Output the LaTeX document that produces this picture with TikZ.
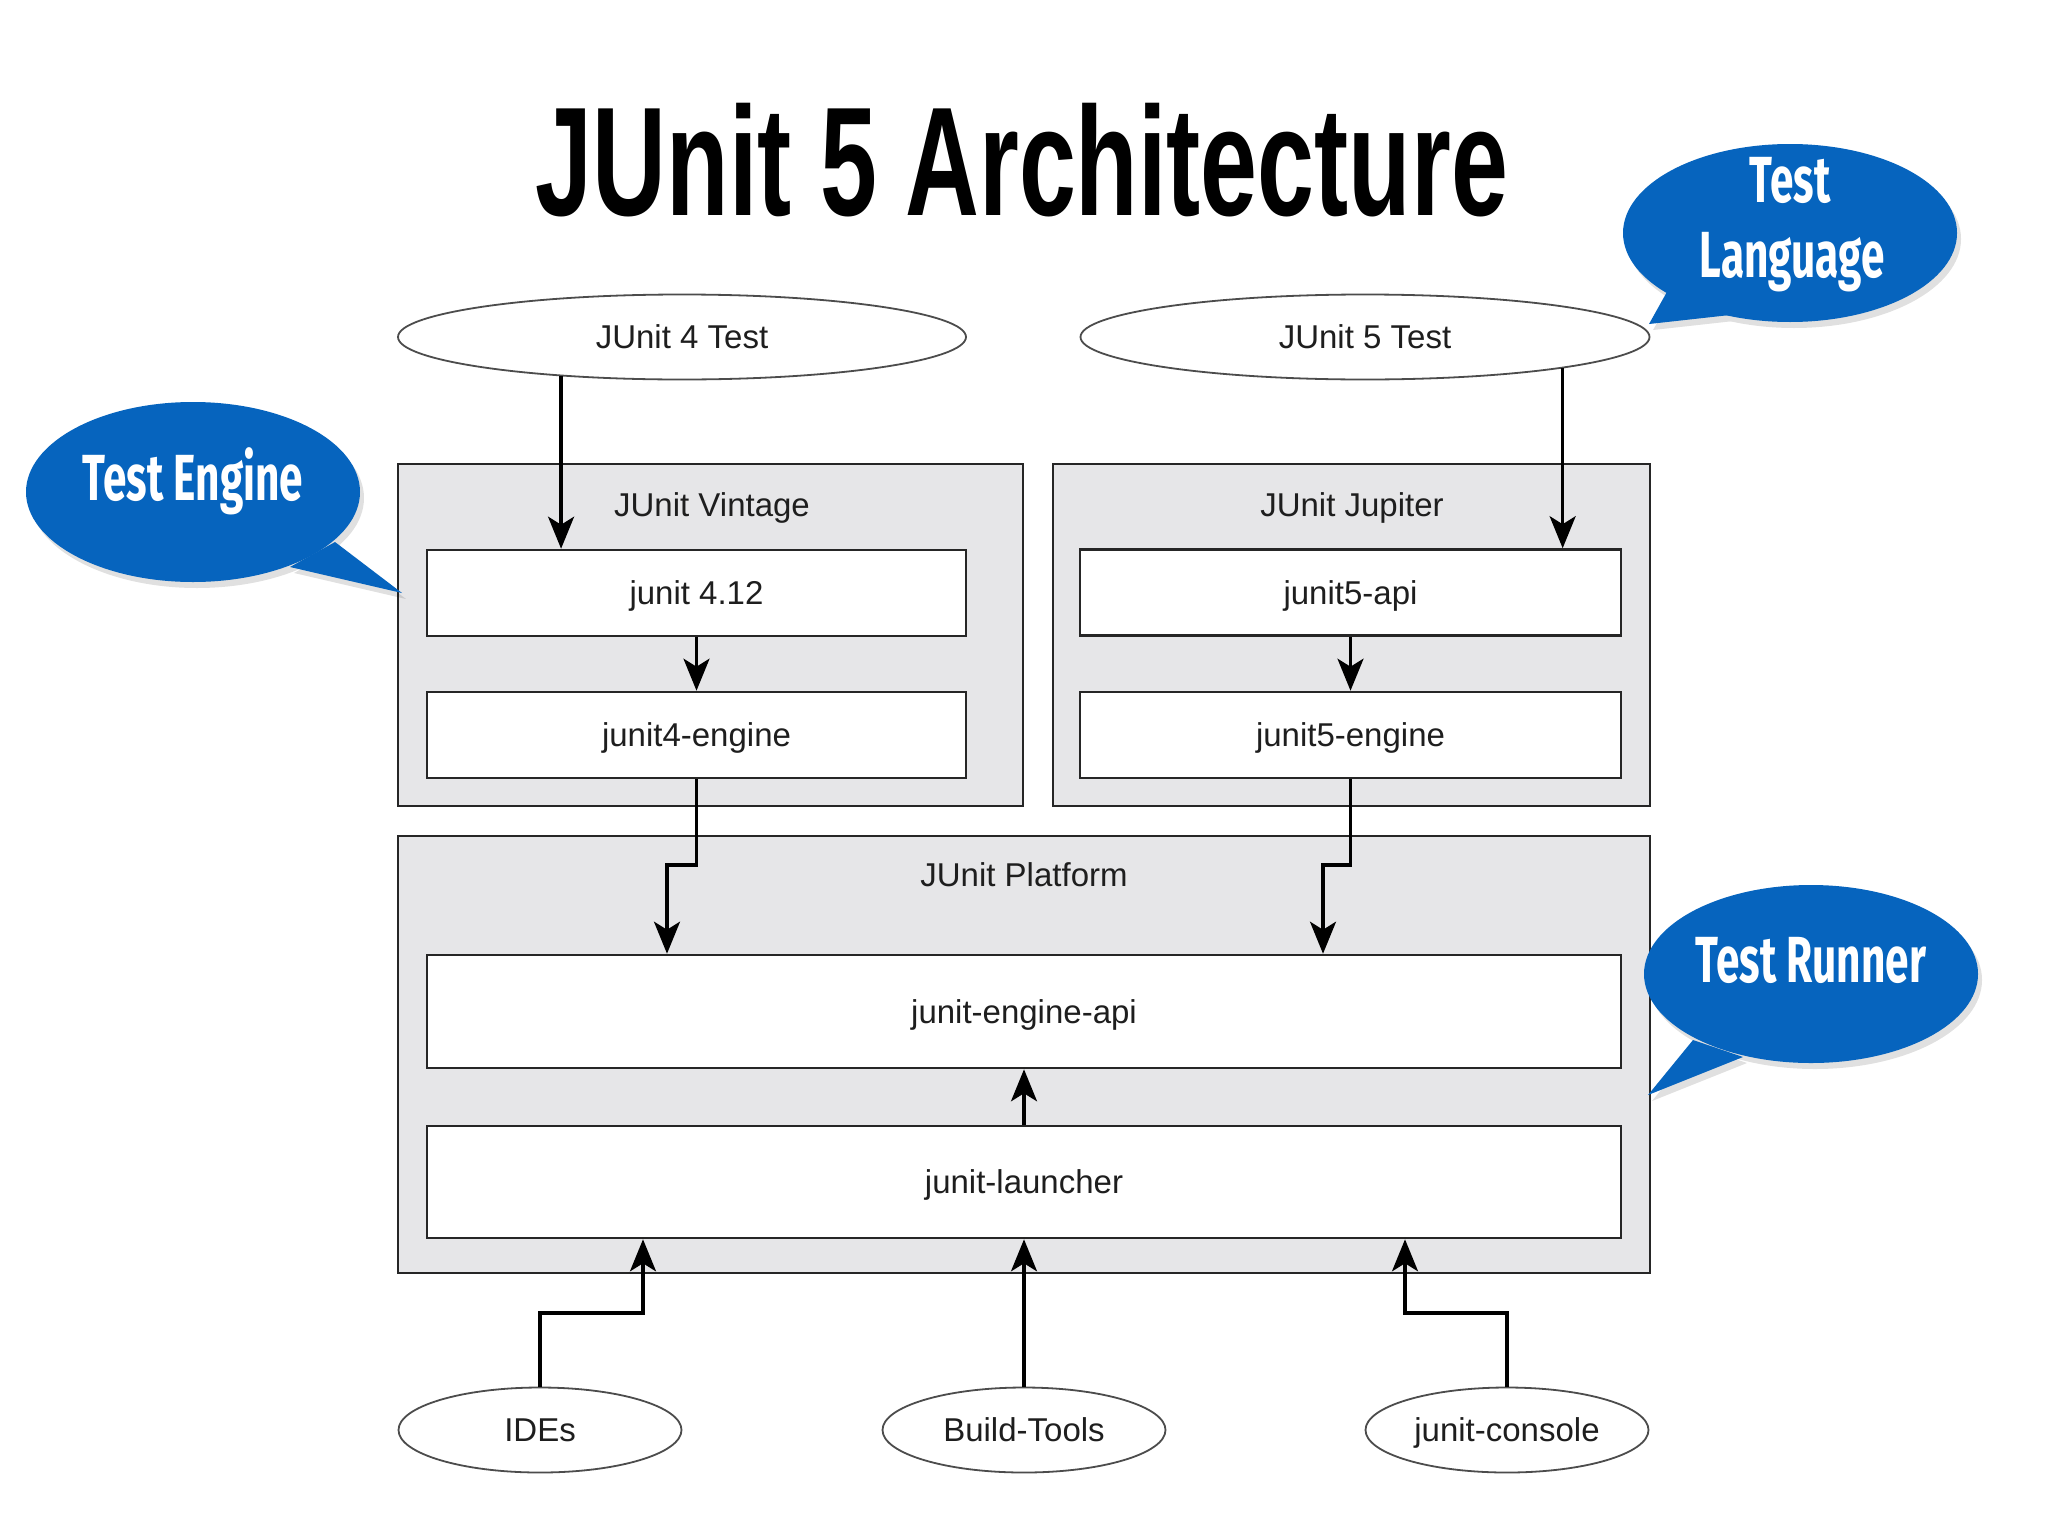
\documentclass[tikz,border=0pt]{standalone}
\usepackage{fontspec}
\setmainfont{Liberation Sans}
\newfontfamily\condfont[FakeStretch=0.65]{Fira Sans}
\newfontfamily\titlefont[FakeStretch=0.66]{Liberation Sans}
\usetikzlibrary{shapes.geometric,arrows.meta}
\definecolor{bubblecol}{RGB}{6,100,190}
\definecolor{boxgray}{RGB}{230,230,232}
\definecolor{txt}{RGB}{30,30,30}
\begin{document}
\begin{tikzpicture}[x=0.5pt,y=-0.5pt,
  container/.style={rectangle, draw=black!85, line width=1.3pt, fill=boxgray, inner sep=0pt},
  inner/.style={rectangle, draw=black!85, line width=1.3pt, fill=white, inner sep=0pt,
    font=\fontsize{16.5}{18}\selectfont, text=txt, text height=14pt, text depth=2.5pt},
  oval/.style={ellipse, draw=black!70, line width=0.9pt, fill=white, inner sep=0pt,
    font=\fontsize{16.5}{18}\selectfont, text=txt, minimum height=42.5pt, text height=14pt, text depth=2.5pt},
  lbl/.style={font=\fontsize{16.5}{18}\selectfont, text=txt, inner sep=0pt, text height=14pt, text depth=2.5pt},
  arr/.style={draw=black, line width=1.6pt, -{Stealth[length=16pt,width=13pt,inset=4pt]}},
  bubble/.style={fill=bubblecol},
  bubshadow/.style={fill=black},
  bubtext/.style={font=\condfont\bfseries\fontsize{32.6}{36}\selectfont, text=white, inner sep=0pt, anchor=base},
]
\path[use as bounding box, fill=white] (0,0) rectangle (2048,1536);

% title
\node[font=\titlefont\bfseries\fontsize{77.5}{84}\selectfont, text=black, inner sep=0pt, anchor=base] (title) at (1022,215) {JUnit 5 Architecture};

% containers
\node[container, minimum width=312.5pt, minimum height=171pt] (vintage) at (710.5,635) {};
\node[container, minimum width=298.5pt, minimum height=171pt] (jupiter) at (1351.5,635) {};
\node[container, minimum width=626pt, minimum height=218.5pt] (platform) at (1024,1054.5) {};
\node[lbl] (vintagelbl) at (712,505) {JUnit Vintage};
\node[lbl] (jupiterlbl) at (1352,505) {JUnit Jupiter};
\node[lbl] (platformlbl) at (1024,875) {JUnit Platform};

% inner boxes
\node[inner, minimum width=269.5pt, minimum height=43pt] (j412) at (696.5,593) {junit 4.12};
\node[inner, minimum width=269.5pt, minimum height=43pt] (j4eng) at (696.5,735) {junit4-engine};
\node[inner, minimum width=270.5pt, minimum height=43pt] (j5api) at (1350.5,592.5) {junit5-api};
\node[inner, minimum width=270.5pt, minimum height=43pt] (j5eng) at (1350.5,735) {junit5-engine};
\node[inner, minimum width=597pt, minimum height=56.5pt] (api) at (1024,1011.5) {junit-engine-api};
\node[inner, minimum width=597pt, minimum height=56pt] (launch) at (1024,1182) {junit-launcher};

% ellipses
\node[oval, minimum width=284pt] (j4test) at (682,337) {JUnit 4 Test};
\node[oval, minimum width=284.5pt] (j5test) at (1365,337) {JUnit 5 Test};
\node[oval, minimum width=141.5pt] (ides) at (540,1430) {IDEs};
\node[oval, minimum width=141.5pt] (build) at (1024,1430) {Build-Tools};
\node[oval, minimum width=141.5pt] (console) at (1507,1430) {junit-console};

% bend points
\coordinate (b1) at (667,865);
\coordinate (b2) at (1323,865);
\coordinate (b3) at (643,1313);
\coordinate (b4) at (1405,1313);

% arrows
\draw[arr] (j4test.198) -- (j4test.198 |- j412.north);
\draw[arr] (j5test.351.5) -- (j5test.351.5 |- j5api.north);
\draw[arr] (j412.south) -- (j4eng.north);
\draw[arr] (j5api.south) -- (j5eng.north);
\draw[arr] (j4eng.south) |- (b1) -- (b1 |- api.north);
\draw[arr] (j5eng.south) |- (b2) -- (b2 |- api.north);
\draw[arr] (launch.north) -- (api.south);
\draw[arr] (ides.north) |- (b3) -- (b3 |- launch.south);
\draw[arr] (build.north) -- (launch.south);
\draw[arr] (console.north) |- (b4) -- (b4 |- launch.south);

% callout shadows
\begin{scope}[transparency group, opacity=0.12, shift={(4,6)}]
  \fill[bubshadow] (193,492) ellipse [x radius=167, y radius=90];
  \fill[bubshadow] (335,542) -- (402,593) -- (290,567) -- cycle;
  \fill[bubshadow] (1790,233) ellipse [x radius=167, y radius=89];
  \fill[bubshadow] (1668,290) -- (1649,324) -- (1730,315) -- cycle;
  \fill[bubshadow] (1811,974) ellipse [x radius=167, y radius=89];
  \fill[bubshadow] (1693,1040) -- (1648,1095) -- (1743,1057) -- cycle;
\end{scope}

% callouts
\fill[bubble] (193,492) ellipse [x radius=167, y radius=90];
\fill[bubble] (335,542) -- (402,593) -- (290,567) -- cycle;
\fill[bubble] (1790,233) ellipse [x radius=167, y radius=89];
\fill[bubble] (1668,290) -- (1649,324) -- (1730,315) -- cycle;
\fill[bubble] (1811,974) ellipse [x radius=167, y radius=89];
\fill[bubble] (1693,1040) -- (1648,1095) -- (1743,1057) -- cycle;

\node[bubtext] (engtxt) at (193,500) {Test Engine};
\node[bubtext] (langtxt1) at (1790,202) {Test};
\node[bubtext] (langtxt2) at (1792,277) {Language};
\node[bubtext] (runtxt) at (1811,982) {Test Runner};
\end{tikzpicture}
\end{document}
